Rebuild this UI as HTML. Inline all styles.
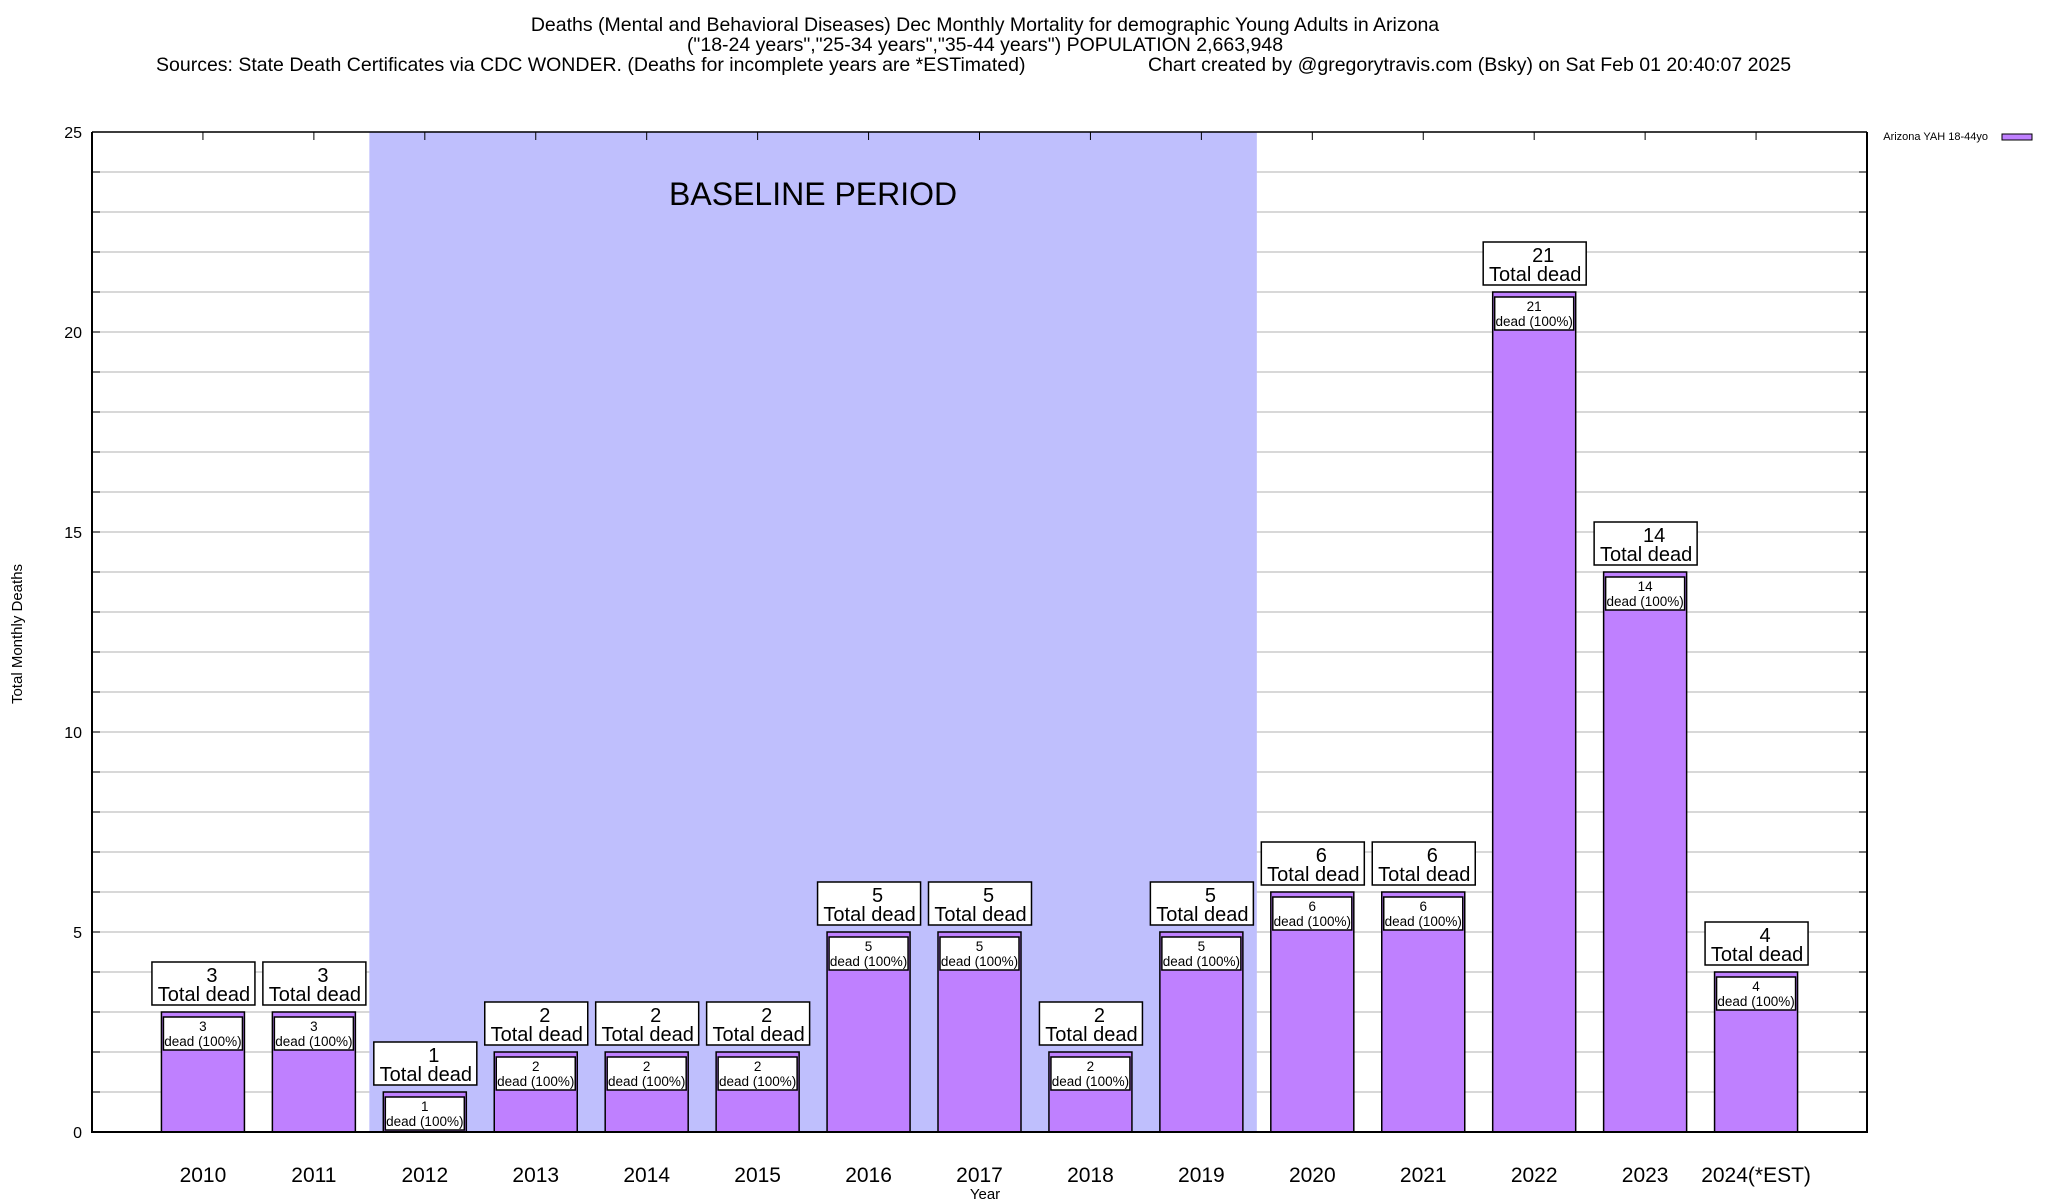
<!DOCTYPE html>
<html><head><meta charset="utf-8"><style>
html,body{margin:0;padding:0;background:#fff}
svg{display:block;font-family:"Liberation Sans",sans-serif}
</style></head><body>
<svg id="c" width="2048" height="1200" viewBox="0 0 2048 1200" xmlns="http://www.w3.org/2000/svg">
<g font-size="19.5" text-anchor="middle">
<text x="985" y="31">Deaths (Mental and Behavioral Diseases) Dec Monthly Mortality for demographic Young Adults in Arizona</text>
<text x="985" y="51">("18-24 years","25-34 years","35-44 years") POPULATION 2,663,948</text>
<text x="156" y="71" text-anchor="start">Sources: State Death Certificates via CDC WONDER. (Deaths for incomplete years are *ESTimated)</text>
<text x="1148" y="71" text-anchor="start">Chart created by @gregorytravis.com (Bsky) on Sat Feb 01 20:40:07 2025</text>
</g>
<g id="grid"></g>
<rect id="band" fill="#bfbffd"/>
<text id="bandlabel" font-size="32" text-anchor="middle">BASELINE PERIOD</text>
<g id="bars"></g>
<g id="axes"></g>
<text font-size="15" text-anchor="middle" transform="translate(22,634) rotate(-90)">Total Monthly Deaths</text>
<text font-size="15" text-anchor="middle" x="985" y="1199">Year</text>
<g>
<text x="1988" y="140" font-size="11" text-anchor="end">Arizona YAH 18-44yo</text>
<rect x="2002" y="134" width="30" height="6" fill="#bf80ff" stroke="#000" stroke-width="1"/>
</g>
</svg>
<script>
const categories = ["2010","2011","2012","2013","2014","2015","2016","2017","2018","2019","2020","2021","2022","2023","2024(*EST)"];
const deaths = [3,3,1,2,2,2,5,5,2,5,6,6,21,14,4];
const yTicks = [0,5,10,15,20,25];
const baselineStart = 1.5, baselineEnd = 9.5;

const L=92,R=1867,T=132,B=1132,ymax=25;
const xs = i => L + (i+1)*(R-L)/16;
const ys = v => B - v*(B-T)/ymax;
const NS="http://www.w3.org/2000/svg";
function mk(tag, attrs, parent, text){const e=document.createElementNS(NS,tag);for(const k in attrs)e.setAttribute(k,attrs[k]);if(text!==undefined)e.textContent=text;parent.appendChild(e);return e;}
const grid=document.getElementById('grid'), axes=document.getElementById('axes'), bars=document.getElementById('bars');
for(let v=1; v<=ymax; v++){
  const g=mk('line',{x1:L,x2:R,y1:ys(v),y2:ys(v),stroke:'#c0c0c0','stroke-width':1.3},grid);
  
  
  mk('line',{x1:L,x2:L+8,y1:ys(v),y2:ys(v),stroke:'#000'},axes);
  mk('line',{x1:R-8,x2:R,y1:ys(v),y2:ys(v),stroke:'#000'},axes);
}
const band=document.getElementById('band');
band.setAttribute('x',xs(baselineStart));band.setAttribute('width',xs(baselineEnd)-xs(baselineStart));
band.setAttribute('y',T);band.setAttribute('height',B-T);
const bl=document.getElementById('bandlabel');
bl.setAttribute('x',(xs(baselineStart)+xs(baselineEnd))/2);bl.setAttribute('y',205);
mk('line',{x1:L,x2:R,y1:T,y2:T,stroke:'#000','stroke-width':1.5},axes);
mk('path',{d:`M${L},${T}V${B}H${R}V${T}`,fill:'none',stroke:'#000','stroke-width':2},axes);
yTicks.forEach(t=>{
  const e=mk('text',{x:L-10,y:ys(t)+6,'font-size':16,'text-anchor':'end'},axes,String(t));
  
  
});
const bw=83;
categories.forEach((c,i)=>{
  const cx=xs(i), v=deaths[i], yt=ys(v);
  const lab=mk('text',{x:cx,y:1182,'font-size':21,'text-anchor':'middle'},axes,c);
  
  
  mk('line',{x1:cx,x2:cx,y1:T,y2:T+8,stroke:'#000'},axes);
  const g=mk('g',{},bars);
  
  
  mk('rect',{x:cx-bw/2,y:yt,width:bw,height:B-yt,fill:'#bf80ff',stroke:'#000','stroke-width':1.5},g);
  mk('rect',{x:cx-bw/2+2,y:yt+5,width:bw-4,height:33,fill:'#fff',stroke:'#000','stroke-width':1.5},g);
  mk('text',{x:cx,y:yt+19,'font-size':13.5,'text-anchor':'middle'},g,String(v));
  mk('text',{x:cx,y:yt+34,'font-size':13.5,'text-anchor':'middle'},g,'dead (100%)');
  const bx=cx-51, by=yt-50;
  mk('rect',{x:bx,y:by,width:103,height:43,fill:'#fff',stroke:'#000','stroke-width':1.5},g);
  mk('text',{x:cx+9,y:by+20,'font-size':20,'text-anchor':'middle'},g,String(v));
  mk('text',{x:cx+1,y:by+39,'font-size':20,'text-anchor':'middle'},g,'Total dead');
});
</script>
</body></html>
